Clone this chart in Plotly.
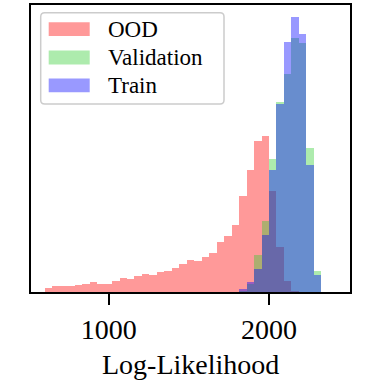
import numpy as np
import plotly.graph_objects as go

# ---- data (histogram counts) ----
bin_edges = np.linspace(600.0, 2326.67, 38)  # 37 common bins

ood_counts = [4.2, 6.5, 5.8, 6.5, 6.8, 7.8, 10.5, 7.8, 8.5, 11.2,
              14.0, 13.0, 16.3, 18.3, 17.0, 19.7, 21.0, 23.7, 28.3, 32.0,
              31.3, 35.3, 39.0, 50.5, 56.5, 67.2, 96.2, 122.2, 151.5, 156.5,
              101.5, 44.8, 11.5, 1.5, 0, 0, 0]
validation_counts = [0] * 26 + [1.0, 8.5, 37.0, 71.3, 133.0, 190.0, 218.0, 254.0, 249.0, 144.3, 21.0]
train_counts = [0] * 26 + [3.0, 10.3, 23.5, 57.0, 122.0, 188.5, 250.5, 275.5, 258.5, 127.3, 17.5]

series_names = ["OOD", "Validation", "Train"]
x_ticks = [1000, 2000]
x_label = "Log-Likelihood"

# ---- styling ----
colors = ["rgba(255,0,0,0.4)", "rgba(50,205,50,0.4)", "rgba(0,0,255,0.4)"]
FONT = "Liberation Serif"
W = H = 381
ML, MR, MT, MB = 31, 31, 5, 89

centers = (bin_edges[:-1] + bin_edges[1:]) / 2
widths = np.diff(bin_edges)

fig = go.Figure()
for name, counts, col in zip(series_names, [ood_counts, validation_counts, train_counts], colors):
    fig.add_bar(x=centers, y=counts, width=widths, name=name,
                marker=dict(color=col, line=dict(width=0)), showlegend=False)

ymax = max(train_counts) * 1.042

fig.update_layout(
    width=W, height=H, barmode="overlay", bargap=0,
    margin=dict(l=ML, r=MR, t=MT, b=MB, autoexpand=False),
    plot_bgcolor="white", paper_bgcolor="white",
    font=dict(family=FONT, color="black"),
)
fig.update_xaxes(range=[514, 2506], tickvals=x_ticks, ticktext=[str(t) for t in x_ticks],
                 ticks="outside", ticklen=11, tickwidth=2, tickcolor="black",
                 showline=True, linewidth=2, linecolor="black", mirror=True,
                 showgrid=False, zeroline=False, tickfont=dict(size=28, family=FONT),
                 automargin=False)
fig.update_yaxes(range=[0, ymax], showticklabels=False, ticks="",
                 showline=True, linewidth=2, linecolor="black", mirror=True,
                 showgrid=False, zeroline=False, automargin=False)

# ---- custom legend (matplotlib-like) ----
pw = W - ML - MR
ph = H - MT - MB


def px(x):
    return (x - ML) / pw


def py(y):
    return (H - MB - y) / ph


# x-axis label
fig.add_annotation(x=px(190.5), y=py(364), xref="paper", yref="paper", text=x_label,
                   showarrow=False, xanchor="center", yanchor="middle",
                   font=dict(size=28, family=FONT, color="black"))

bx0, by0, bx1, by1, r = 40.7, 12.7, 224.0, 104.0, 4.0
path = (f"M{px(bx0 + r)},{py(by0)} L{px(bx1 - r)},{py(by0)} Q{px(bx1)},{py(by0)} {px(bx1)},{py(by0 + r)} "
        f"L{px(bx1)},{py(by1 - r)} Q{px(bx1)},{py(by1)} {px(bx1 - r)},{py(by1)} "
        f"L{px(bx0 + r)},{py(by1)} Q{px(bx0)},{py(by1)} {px(bx0)},{py(by1 - r)} "
        f"L{px(bx0)},{py(by0 + r)} Q{px(bx0)},{py(by0)} {px(bx0 + r)},{py(by0)} Z")
fig.add_shape(type="path", path=path, xref="paper", yref="paper",
              fillcolor="rgba(255,255,255,0.8)", line=dict(color="#cccccc", width=1.5))

row_centers = [29.2, 57.5, 85.3]
for name, col, yc in zip(series_names, colors, row_centers):
    fig.add_shape(type="rect", xref="paper", yref="paper",
                  x0=px(48.7), x1=px(89.7), y0=py(yc - 6.9), y1=py(yc + 6.9),
                  fillcolor=col, line=dict(width=0))
    fig.add_annotation(x=px(105.5), y=py(yc), xref="paper", yref="paper",
                       text=name, showarrow=False, xanchor="left", yanchor="middle",
                       font=dict(size=23, family=FONT, color="black"))

fig.write_html("out.html", config={"displayModeBar": False},
               post_script="document.body.style.margin='0';")
